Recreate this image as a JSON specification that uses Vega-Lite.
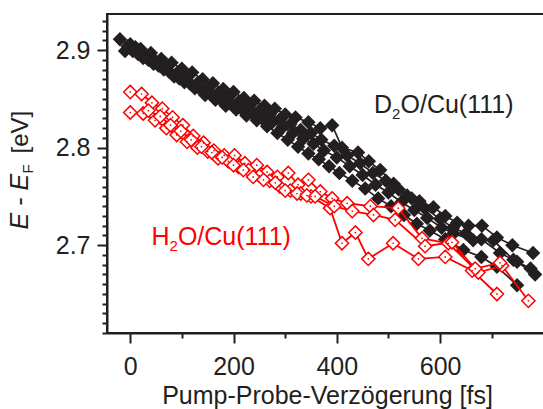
{
  "$schema": "https://vega.github.io/schema/vega-lite/v6.json",
  "width": 440,
  "height": 319,
  "autosize": {"type": "none"},
  "padding": {"left": 107, "top": 14, "right": 0, "bottom": 76},
  "config": {
    "font": "Liberation Sans",
    "view": {"stroke": "#231f20", "strokeWidth": 2},
    "axis": {"grid": false, "domainColor": "#231f20", "domainWidth": 2, "tickColor": "#231f20", "tickWidth": 2, "labelColor": "#231f20", "titleColor": "#231f20", "labelFont": "Liberation Sans", "titleFont": "Liberation Sans", "titleFontWeight": "normal"}
  },
  "datasets": {
    "black": [
      {"t": -20, "E": 2.911, "s": "A"}, {"t": 0, "E": 2.906, "s": "A"}, {"t": 20, "E": 2.901, "s": "A"}, {"t": 40, "E": 2.897, "s": "A"}, {"t": 60, "E": 2.891, "s": "A"}, {"t": 80, "E": 2.887, "s": "A"}, {"t": 100, "E": 2.881, "s": "A"}, {"t": 120, "E": 2.877, "s": "A"}, {"t": 140, "E": 2.870, "s": "A"}, {"t": 160, "E": 2.866, "s": "A"}, {"t": 180, "E": 2.860, "s": "A"}, {"t": 200, "E": 2.857, "s": "A"}, {"t": 220, "E": 2.851, "s": "A"}, {"t": 240, "E": 2.848, "s": "A"}, {"t": 260, "E": 2.843, "s": "A"}, {"t": 280, "E": 2.840, "s": "A"}, {"t": 300, "E": 2.834, "s": "A"}, {"t": 320, "E": 2.831, "s": "A"}, {"t": 345, "E": 2.826, "s": "A"}, {"t": 368, "E": 2.820, "s": "A"}, {"t": 391, "E": 2.823, "s": "A"}, {"t": 410, "E": 2.800, "s": "A"}, {"t": 441, "E": 2.795, "s": "A"}, {"t": 462, "E": 2.786, "s": "A"}, {"t": 484, "E": 2.777, "s": "A"}, {"t": 510, "E": 2.763, "s": "A"}, {"t": 536, "E": 2.751, "s": "A"}, {"t": 560, "E": 2.745, "s": "A"}, {"t": 587, "E": 2.739, "s": "A"}, {"t": 610, "E": 2.730, "s": "A"}, {"t": 633, "E": 2.723, "s": "A"}, {"t": 655, "E": 2.720, "s": "A"}, {"t": 681, "E": 2.720, "s": "A"}, {"t": 710, "E": 2.708, "s": "A"}, {"t": 740, "E": 2.700, "s": "A"}, {"t": 780, "E": 2.692, "s": "A"},
      {"t": -10, "E": 2.899, "s": "B"}, {"t": 10, "E": 2.903, "s": "B"}, {"t": 30, "E": 2.893, "s": "B"}, {"t": 50, "E": 2.888, "s": "B"}, {"t": 70, "E": 2.883, "s": "B"}, {"t": 90, "E": 2.876, "s": "B"}, {"t": 110, "E": 2.873, "s": "B"}, {"t": 130, "E": 2.866, "s": "B"}, {"t": 150, "E": 2.861, "s": "B"}, {"t": 170, "E": 2.856, "s": "B"}, {"t": 190, "E": 2.852, "s": "B"}, {"t": 210, "E": 2.847, "s": "B"}, {"t": 230, "E": 2.843, "s": "B"}, {"t": 250, "E": 2.838, "s": "B"}, {"t": 270, "E": 2.834, "s": "B"}, {"t": 290, "E": 2.829, "s": "B"}, {"t": 310, "E": 2.824, "s": "B"}, {"t": 330, "E": 2.818, "s": "B"}, {"t": 350, "E": 2.815, "s": "B"}, {"t": 370, "E": 2.808, "s": "B"}, {"t": 395, "E": 2.802, "s": "B"}, {"t": 420, "E": 2.792, "s": "B"}, {"t": 445, "E": 2.784, "s": "B"}, {"t": 470, "E": 2.774, "s": "B"}, {"t": 495, "E": 2.766, "s": "B"}, {"t": 520, "E": 2.757, "s": "B"}, {"t": 545, "E": 2.748, "s": "B"}, {"t": 570, "E": 2.738, "s": "B"}, {"t": 600, "E": 2.727, "s": "B"}, {"t": 625, "E": 2.718, "s": "B"}, {"t": 650, "E": 2.712, "s": "B"}, {"t": 680, "E": 2.706, "s": "B"}, {"t": 716, "E": 2.692, "s": "B"}, {"t": 749, "E": 2.683, "s": "B"}, {"t": 784, "E": 2.670, "s": "B"},
      {"t": -5, "E": 2.904, "s": "C"}, {"t": 15, "E": 2.896, "s": "C"}, {"t": 35, "E": 2.890, "s": "C"}, {"t": 55, "E": 2.884, "s": "C"}, {"t": 75, "E": 2.878, "s": "C"}, {"t": 95, "E": 2.871, "s": "C"}, {"t": 115, "E": 2.866, "s": "C"}, {"t": 135, "E": 2.860, "s": "C"}, {"t": 155, "E": 2.855, "s": "C"}, {"t": 175, "E": 2.849, "s": "C"}, {"t": 195, "E": 2.845, "s": "C"}, {"t": 215, "E": 2.840, "s": "C"}, {"t": 235, "E": 2.836, "s": "C"}, {"t": 255, "E": 2.830, "s": "C"}, {"t": 275, "E": 2.826, "s": "C"}, {"t": 295, "E": 2.821, "s": "C"}, {"t": 315, "E": 2.815, "s": "C"}, {"t": 335, "E": 2.809, "s": "C"}, {"t": 355, "E": 2.804, "s": "C"}, {"t": 375, "E": 2.797, "s": "C"}, {"t": 400, "E": 2.790, "s": "C"}, {"t": 425, "E": 2.781, "s": "C"}, {"t": 450, "E": 2.772, "s": "C"}, {"t": 475, "E": 2.762, "s": "C"}, {"t": 500, "E": 2.754, "s": "C"}, {"t": 525, "E": 2.744, "s": "C"}, {"t": 550, "E": 2.736, "s": "C"}, {"t": 575, "E": 2.728, "s": "C"}, {"t": 603, "E": 2.718, "s": "C"}, {"t": 626, "E": 2.712, "s": "C"}, {"t": 664, "E": 2.705, "s": "C"}, {"t": 703, "E": 2.705, "s": "C"}, {"t": 742, "E": 2.685, "s": "C"}, {"t": 775, "E": 2.676, "s": "C"},
      {"t": 5, "E": 2.899, "s": "D"}, {"t": 25, "E": 2.892, "s": "D"}, {"t": 45, "E": 2.886, "s": "D"}, {"t": 65, "E": 2.880, "s": "D"}, {"t": 85, "E": 2.873, "s": "D"}, {"t": 105, "E": 2.867, "s": "D"}, {"t": 125, "E": 2.861, "s": "D"}, {"t": 145, "E": 2.854, "s": "D"}, {"t": 165, "E": 2.849, "s": "D"}, {"t": 185, "E": 2.843, "s": "D"}, {"t": 205, "E": 2.839, "s": "D"}, {"t": 225, "E": 2.833, "s": "D"}, {"t": 245, "E": 2.828, "s": "D"}, {"t": 265, "E": 2.822, "s": "D"}, {"t": 285, "E": 2.815, "s": "D"}, {"t": 305, "E": 2.808, "s": "D"}, {"t": 325, "E": 2.801, "s": "D"}, {"t": 345, "E": 2.794, "s": "D"}, {"t": 365, "E": 2.788, "s": "D"}, {"t": 385, "E": 2.781, "s": "D"}, {"t": 405, "E": 2.774, "s": "D"}, {"t": 430, "E": 2.766, "s": "D"}, {"t": 455, "E": 2.758, "s": "D"}, {"t": 480, "E": 2.748, "s": "D"}, {"t": 505, "E": 2.740, "s": "D"}, {"t": 530, "E": 2.731, "s": "D"}, {"t": 555, "E": 2.722, "s": "D"}, {"t": 580, "E": 2.715, "s": "D"}, {"t": 610, "E": 2.706, "s": "D"}, {"t": 645, "E": 2.695, "s": "D"}, {"t": 680, "E": 2.688, "s": "D"}, {"t": 710, "E": 2.678, "s": "D"}, {"t": 749, "E": 2.659, "s": "D"}
    ],
    "red": [
      {"t": 0, "E": 2.857, "s": "R1"}, {"t": 22, "E": 2.855, "s": "R1"}, {"t": 42, "E": 2.846, "s": "R1"}, {"t": 62, "E": 2.840, "s": "R1"}, {"t": 82, "E": 2.831, "s": "R1"}, {"t": 102, "E": 2.823, "s": "R1"}, {"t": 122, "E": 2.812, "s": "R1"}, {"t": 142, "E": 2.805, "s": "R1"}, {"t": 162, "E": 2.797, "s": "R1"}, {"t": 182, "E": 2.792, "s": "R1"}, {"t": 202, "E": 2.792, "s": "R1"}, {"t": 222, "E": 2.784, "s": "R1"}, {"t": 245, "E": 2.782, "s": "R1"}, {"t": 265, "E": 2.775, "s": "R1"}, {"t": 285, "E": 2.770, "s": "R1"}, {"t": 306, "E": 2.774, "s": "R1"}, {"t": 325, "E": 2.762, "s": "R1"}, {"t": 345, "E": 2.767, "s": "R1"}, {"t": 368, "E": 2.755, "s": "R1"}, {"t": 391, "E": 2.748, "s": "R1"}, {"t": 420, "E": 2.743, "s": "R1"}, {"t": 465, "E": 2.740, "s": "R1"}, {"t": 519, "E": 2.738, "s": "R1"}, {"t": 565, "E": 2.707, "s": "R1"}, {"t": 616, "E": 2.702, "s": "R1"}, {"t": 674, "E": 2.672, "s": "R1"}, {"t": 720, "E": 2.679, "s": "R1"}, {"t": 771, "E": 2.643, "s": "R1"},
      {"t": 0, "E": 2.836, "s": "R2"}, {"t": 25, "E": 2.835, "s": "R2"}, {"t": 48, "E": 2.828, "s": "R2"}, {"t": 70, "E": 2.820, "s": "R2"}, {"t": 90, "E": 2.813, "s": "R2"}, {"t": 110, "E": 2.806, "s": "R2"}, {"t": 130, "E": 2.800, "s": "R2"}, {"t": 150, "E": 2.796, "s": "R2"}, {"t": 170, "E": 2.789, "s": "R2"}, {"t": 190, "E": 2.786, "s": "R2"}, {"t": 210, "E": 2.780, "s": "R2"}, {"t": 229, "E": 2.777, "s": "R2"}, {"t": 250, "E": 2.771, "s": "R2"}, {"t": 270, "E": 2.766, "s": "R2"}, {"t": 290, "E": 2.760, "s": "R2"}, {"t": 310, "E": 2.756, "s": "R2"}, {"t": 330, "E": 2.753, "s": "R2"}, {"t": 350, "E": 2.750, "s": "R2"}, {"t": 387, "E": 2.738, "s": "R2"}, {"t": 410, "E": 2.702, "s": "R2"}, {"t": 436, "E": 2.713, "s": "R2"}, {"t": 461, "E": 2.686, "s": "R2"}, {"t": 509, "E": 2.702, "s": "R2"}, {"t": 558, "E": 2.686, "s": "R2"}, {"t": 610, "E": 2.688, "s": "R2"}, {"t": 662, "E": 2.674, "s": "R2"}, {"t": 710, "E": 2.650, "s": "R2"},
      {"t": 35, "E": 2.838, "s": "R3"}, {"t": 58, "E": 2.832, "s": "R3"}, {"t": 78, "E": 2.823, "s": "R3"}, {"t": 98, "E": 2.817, "s": "R3"}, {"t": 118, "E": 2.808, "s": "R3"}, {"t": 138, "E": 2.801, "s": "R3"}, {"t": 158, "E": 2.795, "s": "R3"}, {"t": 178, "E": 2.790, "s": "R3"}, {"t": 200, "E": 2.782, "s": "R3"}, {"t": 219, "E": 2.777, "s": "R3"}, {"t": 238, "E": 2.770, "s": "R3"}, {"t": 258, "E": 2.767, "s": "R3"}, {"t": 281, "E": 2.764, "s": "R3"}, {"t": 300, "E": 2.756, "s": "R3"}, {"t": 323, "E": 2.753, "s": "R3"}, {"t": 342, "E": 2.751, "s": "R3"}, {"t": 358, "E": 2.750, "s": "R3"}, {"t": 395, "E": 2.740, "s": "R3"}, {"t": 430, "E": 2.735, "s": "R3"}, {"t": 471, "E": 2.731, "s": "R3"}, {"t": 513, "E": 2.726, "s": "R3"}, {"t": 571, "E": 2.699, "s": "R3"}, {"t": 623, "E": 2.703, "s": "R3"}, {"t": 668, "E": 2.676, "s": "R3"}, {"t": 716, "E": 2.682, "s": "R3"}
    ],
    "labels": [
      {"t": 472, "E": 2.8354, "pre": "D", "sub": "2", "rest": "O/Cu(111)", "g": "D2O"},
      {"t": 41, "E": 2.700, "pre": "H", "sub": "2", "rest": "O/Cu(111)", "g": "H2O"}
    ]
  },
  "resolve": {"axis": {"x": "independent", "y": "independent"}},
  "layer": [
    {
      "data": {"name": "black"},
      "mark": {"type": "line", "color": "#231f20", "strokeWidth": 1.7},
      "encoding": {
        "x": {"field": "t", "type": "quantitative", "scale": {"domain": [-45, 807], "nice": false, "zero": false},
          "axis": {"orient": "bottom", "values": [0, 200, 400, 600], "tickSize": 10, "labelFontSize": 25, "labelPadding": 11, "title": "Pump-Probe-Verzögerung [fs]", "titleFontSize": 25, "titleBaseline": "alphabetic", "titleY": 70}},
        "y": {"field": "E", "type": "quantitative", "scale": {"domain": [2.61, 2.937], "nice": false, "zero": false},
          "axis": {"orient": "left", "values": [2.7, 2.8, 2.9], "format": ".1f", "tickSize": 10, "labelFontSize": 25, "labelPadding": 7,
            "title": "E  -  E", "titleFontSize": 25, "titleFontStyle": "italic", "titleAngle": 270, "titleAlign": "left", "titleBaseline": "alphabetic", "titleX": -80, "titleY": 215}},
        "detail": {"field": "s"}
      }
    },
    {
      "data": {"name": "black"},
      "mark": {"type": "point", "shape": "diamond", "filled": true, "color": "#231f20", "size": 210, "opacity": 1},
      "encoding": {
        "x": {"field": "t", "type": "quantitative", "scale": {"domain": [-45, 807], "nice": false, "zero": false},
          "axis": {"orient": "bottom", "values": [100, 300, 500, 700], "tickSize": 5, "labels": false, "domain": false, "title": null}},
        "y": {"field": "E", "type": "quantitative", "scale": {"domain": [2.61, 2.937], "nice": false, "zero": false},
          "axis": {"orient": "left", "values": [2.61, 2.62, 2.63, 2.64, 2.65, 2.66, 2.67, 2.68, 2.69, 2.71, 2.72, 2.73, 2.74, 2.75, 2.76, 2.77, 2.78, 2.79, 2.81, 2.82, 2.83, 2.84, 2.85, 2.86, 2.87, 2.88, 2.89, 2.91, 2.92, 2.93], "tickSize": 5, "labels": false, "domain": false, "title": null}}
      }
    },
    {
      "data": {"name": "red"},
      "mark": {"type": "line", "color": "#ff0000", "strokeWidth": 1.8},
      "encoding": {
        "x": {"field": "t", "type": "quantitative", "scale": {"domain": [-45, 807], "nice": false, "zero": false}, "axis": null},
        "y": {"field": "E", "type": "quantitative", "scale": {"domain": [2.61, 2.937], "nice": false, "zero": false},
          "axis": {"orient": "left", "labels": false, "ticks": false, "domain": false, "title": "F", "titleFontSize": 15, "titleAngle": 270, "titleAlign": "left", "titleBaseline": "alphabetic", "titleX": -75, "titleY": 159}},
        "detail": {"field": "s"}
      }
    },
    {
      "data": {"name": "red"},
      "mark": {"type": "point", "shape": "diamond", "filled": false, "fill": "white", "fillOpacity": 1, "stroke": "#ff0000", "strokeWidth": 1.5, "size": 175, "opacity": 1},
      "encoding": {
        "x": {"field": "t", "type": "quantitative", "scale": {"domain": [-45, 807], "nice": false, "zero": false}, "axis": null},
        "y": {"field": "E", "type": "quantitative", "scale": {"domain": [2.61, 2.937], "nice": false, "zero": false},
          "axis": {"orient": "left", "labels": false, "ticks": false, "domain": false, "title": "[eV]", "titleFontSize": 24, "titleAngle": 270, "titleAlign": "left", "titleBaseline": "alphabetic", "titleX": -80, "titleY": 139}}
      }
    },
    {
      "data": {"name": "red"},
      "mark": {"type": "point", "shape": "circle", "filled": true, "color": "#ff0000", "size": 3, "opacity": 1},
      "encoding": {
        "x": {"field": "t", "type": "quantitative", "scale": {"domain": [-45, 807], "nice": false, "zero": false}, "axis": null},
        "y": {"field": "E", "type": "quantitative", "scale": {"domain": [2.61, 2.937], "nice": false, "zero": false}, "axis": null}
      }
    },
    {
      "data": {"name": "labels"},
      "mark": {"type": "text", "fontSize": 25, "align": "left", "baseline": "alphabetic", "font": "Liberation Sans"},
      "encoding": {
        "x": {"field": "t", "type": "quantitative", "scale": {"domain": [-45, 807], "nice": false, "zero": false}, "axis": null},
        "y": {"field": "E", "type": "quantitative", "scale": {"domain": [2.61, 2.937], "nice": false, "zero": false}, "axis": null},
        "text": {"field": "pre"},
        "color": {"field": "g", "type": "nominal", "scale": {"domain": ["D2O", "H2O"], "range": ["#231f20", "#ff0000"]}, "legend": null}
      }
    },
    {
      "data": {"name": "labels"},
      "mark": {"type": "text", "fontSize": 15, "align": "left", "baseline": "alphabetic", "font": "Liberation Sans", "dx": 18, "dy": 6},
      "encoding": {
        "x": {"field": "t", "type": "quantitative", "scale": {"domain": [-45, 807], "nice": false, "zero": false}, "axis": null},
        "y": {"field": "E", "type": "quantitative", "scale": {"domain": [2.61, 2.937], "nice": false, "zero": false}, "axis": null},
        "text": {"field": "sub"},
        "color": {"field": "g", "type": "nominal", "scale": {"domain": ["D2O", "H2O"], "range": ["#231f20", "#ff0000"]}, "legend": null}
      }
    },
    {
      "data": {"name": "labels"},
      "mark": {"type": "text", "fontSize": 25, "align": "left", "baseline": "alphabetic", "font": "Liberation Sans", "dx": 26.5},
      "encoding": {
        "x": {"field": "t", "type": "quantitative", "scale": {"domain": [-45, 807], "nice": false, "zero": false}, "axis": null},
        "y": {"field": "E", "type": "quantitative", "scale": {"domain": [2.61, 2.937], "nice": false, "zero": false}, "axis": null},
        "text": {"field": "rest"},
        "color": {"field": "g", "type": "nominal", "scale": {"domain": ["D2O", "H2O"], "range": ["#231f20", "#ff0000"]}, "legend": null}
      }
    }
  ]
}
